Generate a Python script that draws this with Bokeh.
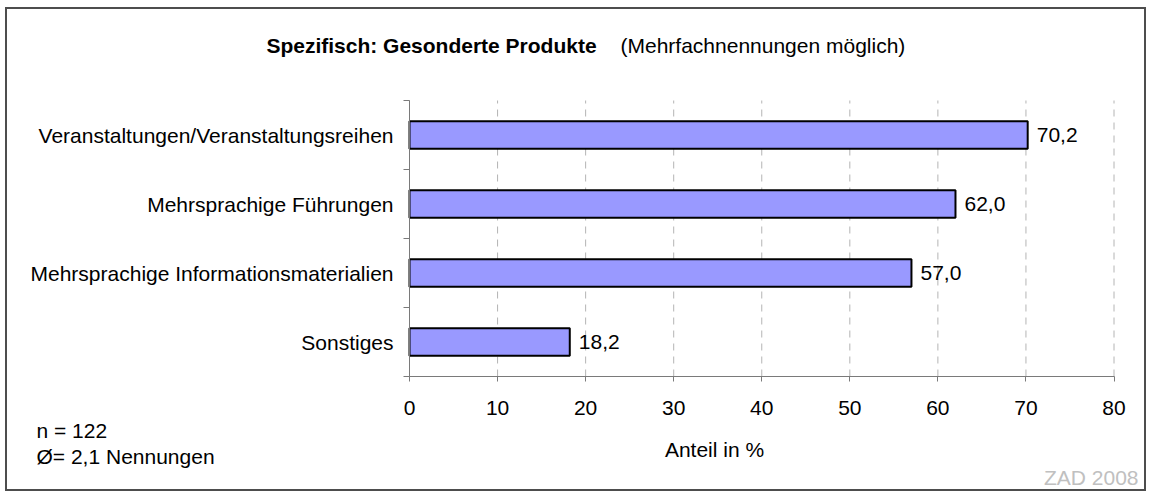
from bokeh.plotting import figure
from bokeh.models import FixedTicker, Label, ColumnDataSource, Range1d
from bokeh.core.properties import value
from bokeh.embed import file_html
from bokeh.resources import INLINE

# ---- data ----
categories = [
    "Veranstaltungen/Veranstaltungsreihen",
    "Mehrsprachige Führungen",
    "Mehrsprachige Informationsmaterialien",
    "Sonstiges",
]
shares = [70.2, 62.0, 57.0, 18.2]
x_ticks = [0, 10, 20, 30, 40, 50, 60, 70, 80]
title_bold = "Spezifisch: Gesonderte Produkte"
title_rest = "(Mehrfachnennungen möglich)"
x_label = "Anteil in %"
note_n = "n = 122"
note_avg = "Ø= 2,1 Nennungen"
source_note = "ZAD 2008"

FONT = "Liberation Sans"
FS = "21px"

# ---- layout (canvas pixels) ----
W, H = 1141, 484
AX_L, AX_R = 404.0, 1108.5     # where x = 0 and x = 80 sit
AX_T, AX_B = 93.0, 369.0       # where the top and bottom category edges sit
X0, X1 = x_ticks[0], x_ticks[-1]
n = len(categories)

sx = (AX_R - AX_L) / (X1 - X0)
sy = (AX_B - AX_T) / n
x_range = Range1d(X0 - AX_L / sx, X1 + (W - AX_R) / sx)
y_range = Range1d(0 - (H - AX_B) / sy, n + AX_T / sy)

ypos = [n - i - 0.5 for i in range(n)]
labels = [f"{v:.1f}".replace(".", ",") for v in shares]
src = ColumnDataSource(dict(y=ypos, v=shares, lab=labels))
grid_src = ColumnDataSource(dict(x=x_ticks, y0=[0] * len(x_ticks), y1=[n] * len(x_ticks)))

p = figure(width=W, height=H, x_range=x_range, y_range=y_range,
           output_backend="svg", toolbar_location=None,
           min_border_left=0, min_border_right=0,
           min_border_top=0, min_border_bottom=0)
p.styles = {"margin-left": "5px", "margin-top": "7px"}
p.outline_line_color = "#4d4d4d"
p.outline_line_width = 3
p.background_fill_color = "white"
p.border_fill_color = "white"
p.xgrid.visible = False
p.ygrid.visible = False

# dashed vertical grid lines, only across the category band
p.segment(x0="x", y0="y0", x1="x", y1="y1", source=grid_src,
          line_color="#b4b4b4", line_dash="7 6", line_width=1)

p.hbar(y="y", left=0, right="v", height=0.4, source=src,
       fill_color="#9999ff", line_color="black", line_width=2)
p.text(x="v", y="y", text="lab", source=src, x_offset=9,
       text_baseline="middle", text_align="left",
       text_font=value(FONT), text_font_size=FS, text_color="black")

# x axis
xa = p.xaxis[0]
xa.fixed_location = 0
xa.bounds = (X0, X1)
xa.ticker = FixedTicker(ticks=x_ticks)
xa.axis_line_color = "#7a7a7a"
xa.major_tick_line_color = "#7a7a7a"
xa.major_tick_out = 5
xa.major_tick_in = 0
xa.minor_tick_line_color = None
xa.major_label_text_font = FONT
xa.major_label_text_font_size = FS
xa.major_label_text_color = "black"
xa.major_label_standoff = 19

# y axis
ya = p.yaxis[0]
ya.fixed_location = X0
ya.bounds = (0, n)
ya.ticker = FixedTicker(ticks=ypos, minor_ticks=list(range(n + 1)))
ya.major_label_overrides = {y: c for y, c in zip(ypos, categories)}
ya.axis_line_color = "#7a7a7a"
ya.major_tick_line_color = None
ya.major_tick_out = 0
ya.major_tick_in = 0
ya.minor_tick_line_color = "#7a7a7a"
ya.minor_tick_out = 6
ya.minor_tick_in = 0
ya.major_label_text_font = FONT
ya.major_label_text_font_size = FS
ya.major_label_text_color = "black"
ya.major_label_standoff = 10


def lab(text, x, y, align="left", color="black", style="normal"):
    p.add_layout(Label(x=x, y=y, x_units="canvas", y_units="canvas", text=text,
                       text_font=FONT, text_font_size=FS, text_color=color,
                       text_align=align, text_baseline="alphabetic",
                       text_font_style=style))


lab(title_bold, 426, 38, align="center", style="bold")
lab(title_rest, 615, 38)
lab(x_label, 709, 442, align="center")
lab(note_n, 31, 423)
lab(note_avg, 31, 449)
lab(source_note, 1133, 470, align="right", color="#c0c0c0")

open("out.html", "w").write(file_html(p, INLINE))
